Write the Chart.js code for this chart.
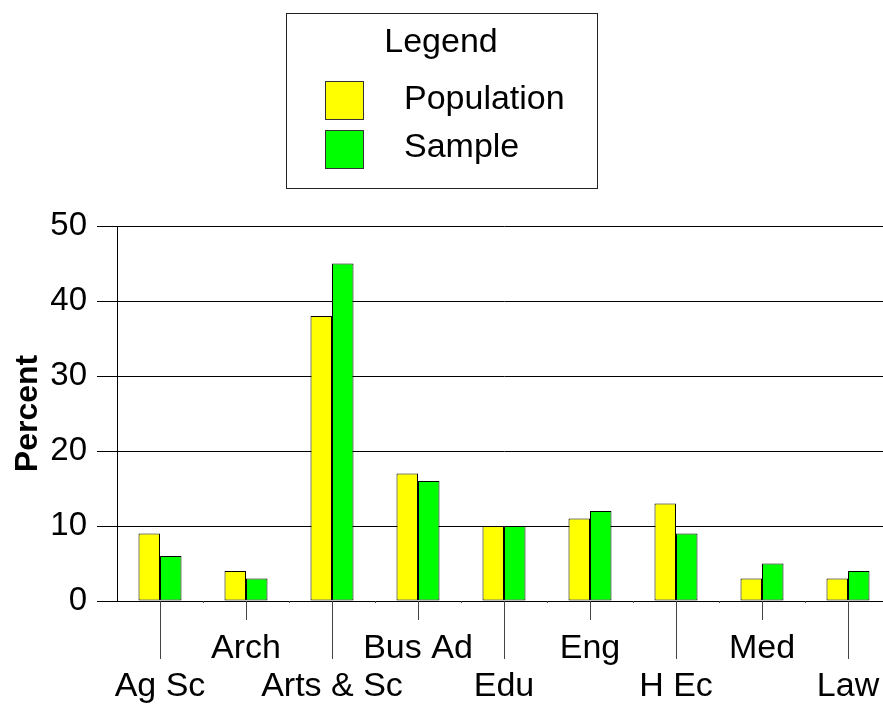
<!DOCTYPE html>
<html>
<head>
<meta charset="utf-8">
<script src="https://cdn.jsdelivr.net/npm/chart.js@4/dist/chart.umd.min.js"></script>
<style>
html, body { margin: 0; padding: 0; overflow: hidden; background: #fff; width: 883px; height: 704px; }
canvas { display: block; }
</style>
</head>
<body>
<canvas id="c" width="891" height="704" style="width:891px;height:704px"></canvas>
<script>
const categories = ['Ag Sc', 'Arch', 'Arts & Sc', 'Bus Ad', 'Edu', 'Eng', 'H Ec', 'Med', 'Law'];
const populationValues = [9, 4, 38, 17, 10, 11, 13, 3, 3];
const sampleValues = [6, 3, 45, 16, 10, 12, 9, 5, 4];
const yTickValues = [0, 10, 20, 30, 40, 50];
const FONT = '"Liberation Sans", Arial, sans-serif';

const xTickPlugin = {
  id: 'xTicks',
  afterDraw(chart) {
    const ctx = chart.ctx, xs = chart.scales.x, bottom = chart.chartArea.bottom;
    ctx.save();
    ctx.strokeStyle = '#444';
    ctx.lineWidth = 1;
    categories.forEach((c, i) => {
      const x = Math.round(xs.getPixelForValue(i)) + 0.5;
      const len = i % 2 === 0 ? 58 : 19;
      ctx.beginPath();
      ctx.moveTo(x, bottom);
      ctx.lineTo(x, bottom + len);
      ctx.stroke();
      if (i < categories.length - 1) {
        const xm = Math.round((xs.getPixelForValue(i) + xs.getPixelForValue(i + 1)) / 2) + 0.5;
        ctx.beginPath();
        ctx.moveTo(xm, bottom);
        ctx.lineTo(xm, bottom + 2);
        ctx.stroke();
      }
    });
    ctx.restore();
  }
};

const legendPlugin = {
  id: 'boxLegend',
  afterDraw(chart) {
    const ctx = chart.ctx;
    ctx.save();
    ctx.strokeStyle = '#222';
    ctx.lineWidth = 1;
    ctx.strokeRect(286.5, 13.5, 311, 175);
    ctx.fillStyle = '#000';
    ctx.font = '34px ' + FONT;
    ctx.textAlign = 'center';
    ctx.textBaseline = 'alphabetic';
    ctx.fillText('Legend', 441, 52);
    const baselines = [109, 157];
    const tops = [81, 130];
    chart.data.datasets.forEach((ds, i) => {
      ctx.fillStyle = ds.backgroundColor;
      ctx.fillRect(325, tops[i], 39, 39);
      ctx.strokeStyle = '#333';
      ctx.strokeRect(325.5, tops[i] + 0.5, 38, 38);
      ctx.fillStyle = '#000';
      ctx.textAlign = 'left';
      ctx.fillText(ds.label, 404, baselines[i]);
    });
    ctx.restore();
  }
};

new Chart(document.getElementById('c'), {
  type: 'bar',
  data: {
    labels: categories,
    datasets: [
      { label: 'Population', data: populationValues, backgroundColor: '#ffff00', borderColor: '#000', borderWidth: 1 },
      { label: 'Sample', data: sampleValues, backgroundColor: '#00ff00', borderColor: '#000', borderWidth: 1 }
    ]
  },
  options: {
    responsive: false,
    animation: false,
    devicePixelRatio: 1,
    layout: { padding: { top: 226, left: 0, right: 0, bottom: 0 } },
    plugins: { legend: { display: false }, tooltip: { enabled: false }, title: { display: false } },
    datasets: { bar: { categoryPercentage: 0.5, barPercentage: 1.0, borderSkipped: false } },
    scales: {
      x: {
        offset: true,
        grid: { display: false, drawTicks: false },
        border: { display: false },
        afterFit: (s) => { s.height = 103; s.paddingLeft = 0; s.paddingRight = 0; },
        ticks: {
          autoSkip: false, maxRotation: 0, minRotation: 0,
          padding: 28,
          color: '#000',
          font: { family: FONT, size: 34, lineHeight: 1.13 },
          callback: (v, i) => i % 2 === 0 ? ['', categories[i]] : [categories[i], '']
        }
      },
      y: {
        min: 0, max: 50,
        afterFit: (s) => { s.width = 117; s.paddingTop = 0; s.paddingBottom = 0; },
        afterBuildTicks: (s) => { s.ticks = yTickValues.map(v => ({ value: v })); },
        grid: { color: '#000', lineWidth: 1, tickLength: 20, drawTicks: true },
        border: { display: true, color: '#000', width: 1 },
        ticks: { color: '#000', padding: 10, font: { family: FONT, size: 33 } },
        title: {
          display: true, text: 'Percent', color: '#000',
          padding: { top: 9, bottom: 0 },
          font: { family: FONT, size: 32, weight: 'bold', lineHeight: 1.2 }
        }
      }
    }
  },
  plugins: [xTickPlugin, legendPlugin]
});
</script>
</body>
</html>
